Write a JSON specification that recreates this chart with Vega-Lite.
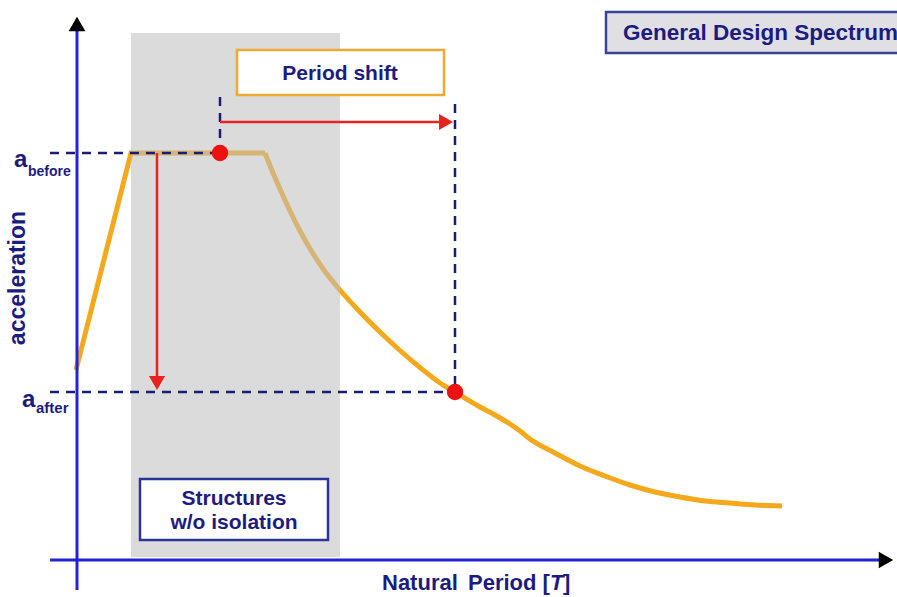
{
  "$schema": "https://vega.github.io/schema/vega-lite/v6.json",
  "width": 897,
  "height": 597,
  "padding": 0,
  "autosize": {"type": "fit", "contains": "padding"},
  "background": "white",
  "config": {"view": {"stroke": null}},
  "encoding": {
    "x": {"type": "quantitative", "scale": {"domain": [0, 897], "nice": false, "zero": false}, "axis": null},
    "y": {"type": "quantitative", "scale": {"domain": [0, 597], "nice": false, "zero": false, "reverse": true}, "axis": null}
  },
  "layer": [
    {
      "data": {"values": [
        {"x": 76, "y": 370}, {"x": 131, "y": 153}, {"x": 265, "y": 153}
      ]},
      "mark": {"type": "line", "color": "#F4A81C", "strokeWidth": 5, "strokeJoin": "miter"},
      "encoding": {"x": {"field": "x", "type": "quantitative"}, "y": {"field": "y", "type": "quantitative"}, "order": {"field": "x"}}
    },
    {
      "data": {"values": [
        {"x": 265, "y": 153}, {"x": 272, "y": 170.5}, {"x": 280, "y": 189}, {"x": 290, "y": 211},
        {"x": 300, "y": 231}, {"x": 312, "y": 252}, {"x": 325, "y": 271.5}, {"x": 340, "y": 290},
        {"x": 360, "y": 312}, {"x": 380, "y": 332}, {"x": 400, "y": 350.5}, {"x": 420, "y": 367.5},
        {"x": 440, "y": 383}, {"x": 455, "y": 392}, {"x": 480, "y": 407}, {"x": 495, "y": 415},
        {"x": 510, "y": 424}, {"x": 520, "y": 431}, {"x": 530, "y": 439}, {"x": 555, "y": 453},
        {"x": 580, "y": 466}, {"x": 605, "y": 476}, {"x": 630, "y": 485}, {"x": 655, "y": 492},
        {"x": 680, "y": 497}, {"x": 705, "y": 501}, {"x": 730, "y": 503}, {"x": 755, "y": 505},
        {"x": 782, "y": 506}
      ]},
      "mark": {"type": "line", "color": "#F4A81C", "strokeWidth": 5, "interpolate": "monotone"},
      "encoding": {"x": {"field": "x", "type": "quantitative"}, "y": {"field": "y", "type": "quantitative"}, "order": {"field": "x"}}
    },
    {
      "data": {"values": [{"x": 131, "x2": 340, "y": 33, "y2": 557}]},
      "mark": {"type": "rect", "fill": "#bebebe", "opacity": 0.55},
      "encoding": {"x": {"field": "x", "type": "quantitative"}, "x2": {"field": "x2"}, "y": {"field": "y", "type": "quantitative"}, "y2": {"field": "y2"}}
    },
    {
      "data": {"values": [
        {"x": 77, "x2": 77, "y": 30, "y2": 590},
        {"x": 50, "x2": 880, "y": 560, "y2": 560}
      ]},
      "mark": {"type": "rule", "color": "#2222D8", "strokeWidth": 3},
      "encoding": {"x": {"field": "x", "type": "quantitative"}, "x2": {"field": "x2"}, "y": {"field": "y", "type": "quantitative"}, "y2": {"field": "y2"}}
    },
    {
      "data": {"values": [{"x": 77, "y": 24, "s": "triangle-up"}, {"x": 886, "y": 560, "s": "triangle-right"}]},
      "mark": {"type": "point", "filled": true, "color": "#000000", "opacity": 1, "size": 280},
      "encoding": {"x": {"field": "x", "type": "quantitative"}, "y": {"field": "y", "type": "quantitative"}, "shape": {"field": "s", "type": "nominal", "scale": null}}
    },
    {
      "data": {"values": [
        {"x": 50, "x2": 215, "y": 153, "y2": 153},
        {"x": 50, "x2": 450, "y": 392, "y2": 392},
        {"x": 220, "x2": 220, "y": 97, "y2": 150},
        {"x": 455, "x2": 455, "y": 104, "y2": 388}
      ]},
      "mark": {"type": "rule", "color": "#1A1A78", "strokeWidth": 2.5, "strokeDash": [9, 7]},
      "encoding": {"x": {"field": "x", "type": "quantitative"}, "x2": {"field": "x2"}, "y": {"field": "y", "type": "quantitative"}, "y2": {"field": "y2"}}
    },
    {
      "data": {"values": [
        {"x": 220, "x2": 440, "y": 122, "y2": 122},
        {"x": 157, "x2": 157, "y": 153, "y2": 376}
      ]},
      "mark": {"type": "rule", "color": "#E8231F", "strokeWidth": 2.5},
      "encoding": {"x": {"field": "x", "type": "quantitative"}, "x2": {"field": "x2"}, "y": {"field": "y", "type": "quantitative"}, "y2": {"field": "y2"}}
    },
    {
      "data": {"values": [{"x": 446, "y": 122, "s": "triangle-right"}, {"x": 157, "y": 383, "s": "triangle-down"}]},
      "mark": {"type": "point", "filled": true, "color": "#E8231F", "opacity": 1, "size": 260},
      "encoding": {"x": {"field": "x", "type": "quantitative"}, "y": {"field": "y", "type": "quantitative"}, "shape": {"field": "s", "type": "nominal", "scale": null}}
    },
    {
      "data": {"values": [{"x": 220, "y": 153}, {"x": 455, "y": 392}]},
      "mark": {"type": "circle", "color": "#EE1111", "opacity": 1, "size": 270},
      "encoding": {"x": {"field": "x", "type": "quantitative"}, "y": {"field": "y", "type": "quantitative"}}
    },
    {
      "data": {"values": [
        {"x": 237, "x2": 444, "y": 50, "y2": 95, "f": "#FFFFFF", "c": "#F0A830"},
        {"x": 140, "x2": 328, "y": 479, "y2": 540, "f": "#FFFFFF", "c": "#2A3498"}
      ]},
      "mark": {"type": "rect", "strokeWidth": 2.5},
      "encoding": {
        "x": {"field": "x", "type": "quantitative"}, "x2": {"field": "x2"},
        "y": {"field": "y", "type": "quantitative"}, "y2": {"field": "y2"},
        "fill": {"field": "f", "type": "nominal", "scale": null},
        "stroke": {"field": "c", "type": "nominal", "scale": null}
      }
    },
    {
      "data": {"values": [{"x": 606, "x2": 920, "y": 12, "y2": 53}]},
      "mark": {"type": "rect", "strokeWidth": 2.5, "fill": "#E0E0E4", "stroke": "#3A4496", "clip": true},
      "encoding": {
        "x": {"field": "x", "type": "quantitative"}, "x2": {"field": "x2"},
        "y": {"field": "y", "type": "quantitative"}, "y2": {"field": "y2"}
      }
    },
    {
      "data": {"values": [{"x": 623, "y": 40, "t": "General Design Spectrum"}]},
      "mark": {"type": "text", "font": "Liberation Sans", "fontWeight": "bold", "fontSize": 22.5, "color": "#1C1C80", "baseline": "alphabetic", "align": "left", "clip": true},
      "encoding": {
        "x": {"field": "x", "type": "quantitative"}, "y": {"field": "y", "type": "quantitative"},
        "text": {"field": "t"}
      }
    },
    {
      "data": {"values": [
        {"x": 382, "y": 590, "t": "Natural", "fs": 22},
        {"x": 468, "y": 590, "t": "Period [", "fs": 22},
        {"x": 563, "y": 590, "t": "]", "fs": 22},
        {"x": 14, "y": 167, "t": "a", "fs": 24},
        {"x": 28, "y": 176, "t": "before", "fs": 14},
        {"x": 22, "y": 407, "t": "a", "fs": 24},
        {"x": 36, "y": 413, "t": "after", "fs": 15}
      ]},
      "mark": {"type": "text", "font": "Liberation Sans", "fontWeight": "bold", "color": "#1C1C80", "baseline": "alphabetic", "align": "left"},
      "encoding": {
        "x": {"field": "x", "type": "quantitative"}, "y": {"field": "y", "type": "quantitative"},
        "text": {"field": "t"},
        "size": {"field": "fs", "type": "quantitative", "scale": null}
      }
    },
    {
      "data": {"values": [
        {"x": 340, "y": 80, "t": "Period shift"},
        {"x": 234, "y": 505, "t": "Structures"},
        {"x": 234, "y": 529, "t": "w/o isolation"}
      ]},
      "mark": {"type": "text", "font": "Liberation Sans", "fontWeight": "bold", "fontSize": 21, "color": "#1C1C80", "baseline": "alphabetic", "align": "center"},
      "encoding": {
        "x": {"field": "x", "type": "quantitative"}, "y": {"field": "y", "type": "quantitative"},
        "text": {"field": "t"}
      }
    },
    {
      "data": {"values": [{"x": 550, "y": 590, "t": "T"}]},
      "mark": {"type": "text", "font": "Liberation Sans", "fontWeight": "bold", "fontStyle": "italic", "fontSize": 22, "color": "#1C1C80", "align": "left", "baseline": "alphabetic"},
      "encoding": {"x": {"field": "x", "type": "quantitative"}, "y": {"field": "y", "type": "quantitative"}, "text": {"field": "t"}}
    },
    {
      "data": {"values": [{"x": 18, "y": 278, "t": "acceleration"}]},
      "mark": {"type": "text", "font": "Liberation Sans", "fontWeight": "bold", "fontSize": 23, "angle": 270, "color": "#1C1C80", "align": "center", "baseline": "middle"},
      "encoding": {"x": {"field": "x", "type": "quantitative"}, "y": {"field": "y", "type": "quantitative"}, "text": {"field": "t"}}
    }
  ]
}
